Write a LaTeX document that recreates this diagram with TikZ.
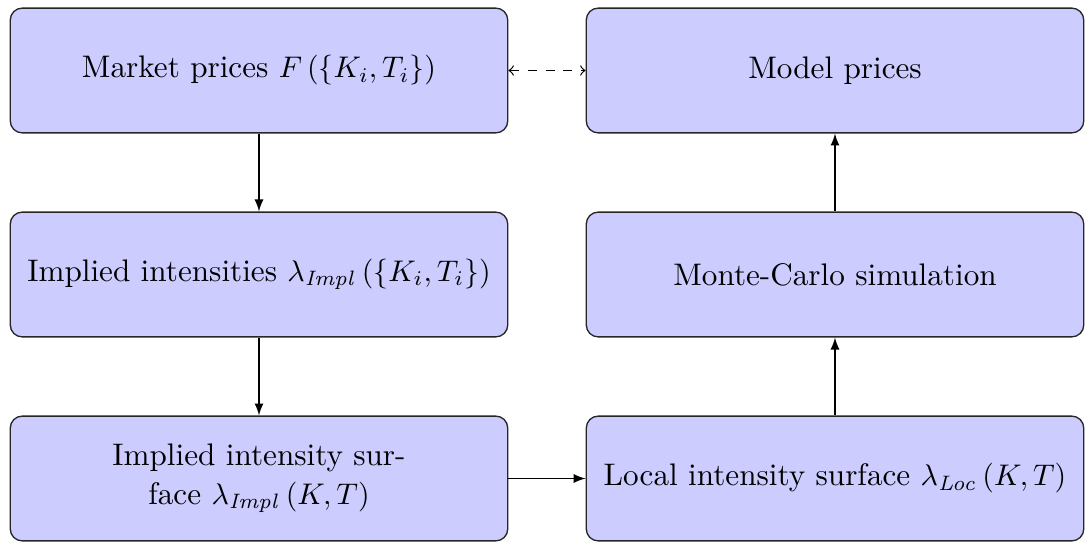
\documentclass[tikz,border=0pt]{standalone}
\usetikzlibrary{arrows}
\begin{document}
\begin{tikzpicture}[x=0.011786cm,y=-0.011786cm,
  box/.style={draw=black!85, line width=0.45pt, fill=blue!20, rounded corners=4pt,
    minimum width=5.86cm, minimum height=1.47cm, align=center, inner sep=2pt,
    font=\fontsize{10.45}{12.8}\selectfont},
  link/.style={-latex, line width=0.4pt},
  duallink/.style={<->, dashed, line width=0.4pt}]
\useasboundingbox (0,0) rectangle (1086,543);
\node[box] (mkt) at (259,70.5) {Market prices $F\left(\{K_i,T_i\}\right)$};
\node[box] (impl) at (259,274.5) {Implied intensities $\lambda_{\mathit{Impl}}\left(\{K_i,T_i\}\right)$};
\node[box] (surf) at (259,478.5) {Implied intensity sur-\\face $\lambda_{\mathit{Impl}}\left(K,T\right)$};
\node[box] (model) at (835,70.5) {Model prices};
\node[box] (mc) at (835,274.5) {Monte-Carlo simulation};
\node[box] (loc) at (835,478.5) {Local intensity surface $\lambda_{\mathit{Loc}}\left(K,T\right)$};
\draw[link] (mkt) -- (impl);
\draw[link] (impl) -- (surf);
\draw[link] (surf) -- (loc);
\draw[link] (loc) -- (mc);
\draw[link] (mc) -- (model);
\draw[duallink] (mkt) -- (model);
\end{tikzpicture}
\end{document}
